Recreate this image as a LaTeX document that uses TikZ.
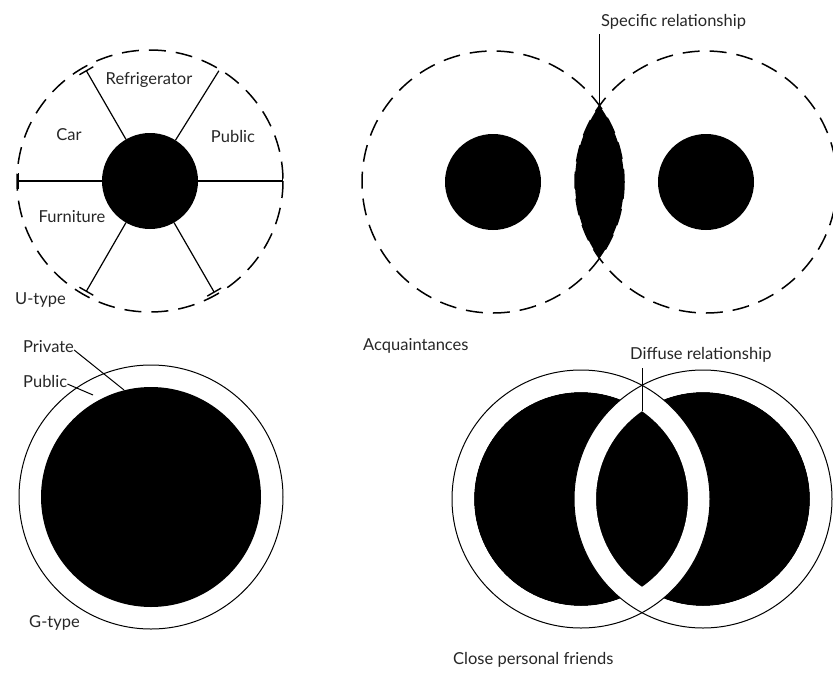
\documentclass[tikz,border=0pt]{standalone}
\usepackage{fontspec}
\setmainfont{Lato}
\usetikzlibrary{arrows.meta}
\begin{document}
\begin{tikzpicture}[x=1pt,y=-1pt,
  lbl/.style={font=\fontsize{16.5}{18}\selectfont, inner sep=0pt, anchor=west, text=black!85},
  dsh/.style={line width=1.5pt, dash pattern=on 17pt off 10pt},
  spoke/.style={line width=1.2pt},
  tick/.style={-{Bar[width=16pt,line width=1.4pt]}},
  thinline/.style={line width=1pt}]
\useasboundingbox (0,0) rectangle (833,675);
% ---------- U-type ----------
\coordinate (U) at (150,181);
\draw[dsh] (U) ellipse [x radius=133, y radius=131];
\fill (U) circle (48);
\draw[spoke,tick] (U) ++(180:48) coordinate (s1a) -- ++(180:84) coordinate (s1b);
\draw[spoke,tick] (U) ++(0:48) coordinate (s2a) -- ++(0:85) coordinate (s2b);
\draw[spoke,tick] (U) ++(-120:48) coordinate (s3a) -- ++(-120:80) coordinate (s3b);
\draw[spoke] (U) ++(-58:48) coordinate (s4a) -- ++(-58:82) coordinate (s4b);
\draw[spoke,tick] (U) ++(120:48) coordinate (s5a) -- ++(120:80) coordinate (s5b);
\draw[spoke,tick] (U) ++(60:48) coordinate (s6a) -- ++(60:81) coordinate (s6b);
\node[lbl, anchor=center] (refr) at (149,80) {Refrigerator};
\node[lbl, anchor=center] (car) at (69,135) {Car};
\node[lbl, anchor=center] (pub1) at (233,136) {Public};
\node[lbl, anchor=center] (furn) at (72,217) {Furniture};
\node[lbl] (utype) at (15,300) {U-type};
% ---------- Acquaintances ----------
\coordinate (A1) at (493,182);
\coordinate (A2) at (706,182);
\begin{scope}
  \clip (A1) circle (131);
  \fill (A2) circle (131);
\end{scope}
\draw[dsh] (A1) circle (131);
\draw[dsh] (A2) circle (131);
\fill (A1) circle (48);
\fill (A2) circle (48);
\coordinate (sTop) at (599.5,106);
\coordinate (sEnd) at (599.5,34);
\draw[thinline] (sTop) -- (sEnd);
\node[lbl] (spec) at (601,22) {Specific relationship};
\node[lbl] (acq) at (363,346) {Acquaintances};
% ---------- G-type ----------
\coordinate (G) at (151,497);
\draw[thinline] (G) circle (132);
\fill (G) circle (110);
\node[lbl] (priv) at (23,347) {Private};
\node[lbl] (pub2) at (23,381) {Public};
\coordinate (privEnd) at (124,390);
\coordinate (pubEnd) at (93,395);
\draw[thinline] ([yshift=-3pt]priv.east) -- (privEnd);
\draw[thinline] ([yshift=-3pt]pub2.east) -- (pubEnd);
\node[lbl] (gtype) at (29,623) {G-type};
% ---------- Close personal friends ----------
\coordinate (L) at (581,499);
\coordinate (R) at (703,499);
\fill (L) circle (107);
\fill (R) circle (107);
\fill[white, even odd rule] (L) circle (129) (L) circle (107);
\fill[white, even odd rule] (R) circle (129) (R) circle (107);
\draw[thinline] (L) circle (129);
\draw[thinline] (R) circle (129);
\coordinate (dTop) at (642,411);
\coordinate (dEnd) at (642,368);
\draw[thinline] (dTop) -- (dEnd);
\node[lbl] (diff) at (630,355) {Diffuse relationship};
\node[lbl] (close) at (453,660) {Close personal friends};
\end{tikzpicture}
\end{document}
